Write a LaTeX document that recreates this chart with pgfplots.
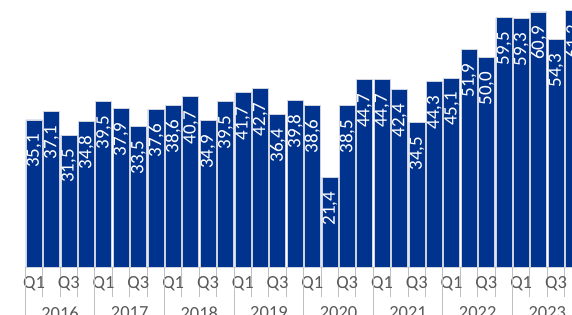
\documentclass[border=0pt]{standalone}
\usepackage{pgfplots}
\pgfplotsset{compat=1.18}
\usepackage{fontspec}
\setmainfont{Carlito}
\definecolor{barblue}{RGB}{0,51,141}
\definecolor{bardraw}{RGB}{205,210,222}
\definecolor{axgray}{RGB}{191,191,191}
\definecolor{labgray}{RGB}{89,89,89}
\begin{document}
\begin{tikzpicture}[x=1pt,y=1pt]
\useasboundingbox (0,0) rectangle (572,314);
\clip (0,0) rectangle (572,314);
\begin{axis}[
  at={(25.3pt,47pt)}, anchor=south west,
  scale only axis, width=556.8pt, height=293.3pt,
  xmin=-0.5, xmax=31.5, ymin=0, ymax=70,
  enlargelimits=false, clip=false,
  ybar, bar width=16pt,
  axis x line*=bottom, axis y line=none,
  x axis line style={-, draw=axgray, line width=1pt},
  xtick={0,2,...,30},
  xticklabels={Q1,Q3,Q1,Q3,Q1,Q3,Q1,Q3,Q1,Q3,Q1,Q3,Q1,Q3,Q1,Q3},
  xticklabel style={font=\fontsize{18.5}{20}\selectfont, text=labgray, yshift=-6pt},
  major tick length=0pt,
  minor xtick={-0.5,0.5,...,31.5},
  minor tick length=30pt,
  tick align=outside,
  tick style={draw=axgray, line width=1pt},
  extra x ticks={-0.5,3.5,7.5,11.5,15.5,19.5,23.5,27.5,31.5},
  extra x tick labels={},
  extra x tick style={major tick length=80pt, tick style={draw=axgray, line width=1pt}},
  /pgf/number format/.cd, fixed, fixed zerofill, precision=1, use comma, assume math mode=true,
  /pgfplots/.cd,
  nodes near coords={\pgfmathprintnumber{\pgfplotspointmeta}\hspace*{14pt}},
  every node near coord/.append style={rotate=90, anchor=east, text=white, inner sep=0pt, font=\fontsize{19}{20}\selectfont},
]
\addplot[fill=barblue, draw=bardraw, line width=0.6pt] coordinates {
(0,35.1) (1,37.1) (2,31.5) (3,34.8)
(4,39.5) (5,37.9) (6,33.5) (7,37.6)
(8,38.6) (9,40.7) (10,34.9) (11,39.5)
(12,41.7) (13,42.7) (14,36.4) (15,39.8)
(16,38.6) (17,21.4) (18,38.5) (19,44.7)
(20,44.7) (21,42.4) (22,34.5) (23,44.3)
(24,45.1) (25,51.9) (26,50.0) (27,59.5)
(28,59.3) (29,60.9) (30,54.3) (31,61.2)
};
\node[anchor=north, inner sep=0pt, yshift=-39.5pt, text=labgray, font=\fontsize{18.5}{20}\selectfont] at (axis cs:1.5,0) {2016};
\node[anchor=north, inner sep=0pt, yshift=-39.5pt, text=labgray, font=\fontsize{18.5}{20}\selectfont] at (axis cs:5.5,0) {2017};
\node[anchor=north, inner sep=0pt, yshift=-39.5pt, text=labgray, font=\fontsize{18.5}{20}\selectfont] at (axis cs:9.5,0) {2018};
\node[anchor=north, inner sep=0pt, yshift=-39.5pt, text=labgray, font=\fontsize{18.5}{20}\selectfont] at (axis cs:13.5,0) {2019};
\node[anchor=north, inner sep=0pt, yshift=-39.5pt, text=labgray, font=\fontsize{18.5}{20}\selectfont] at (axis cs:17.5,0) {2020};
\node[anchor=north, inner sep=0pt, yshift=-39.5pt, text=labgray, font=\fontsize{18.5}{20}\selectfont] at (axis cs:21.5,0) {2021};
\node[anchor=north, inner sep=0pt, yshift=-39.5pt, text=labgray, font=\fontsize{18.5}{20}\selectfont] at (axis cs:25.5,0) {2022};
\node[anchor=north, inner sep=0pt, yshift=-39.5pt, text=labgray, font=\fontsize{18.5}{20}\selectfont] at (axis cs:29.5,0) {2023};
\end{axis}
\end{tikzpicture}
\end{document}
